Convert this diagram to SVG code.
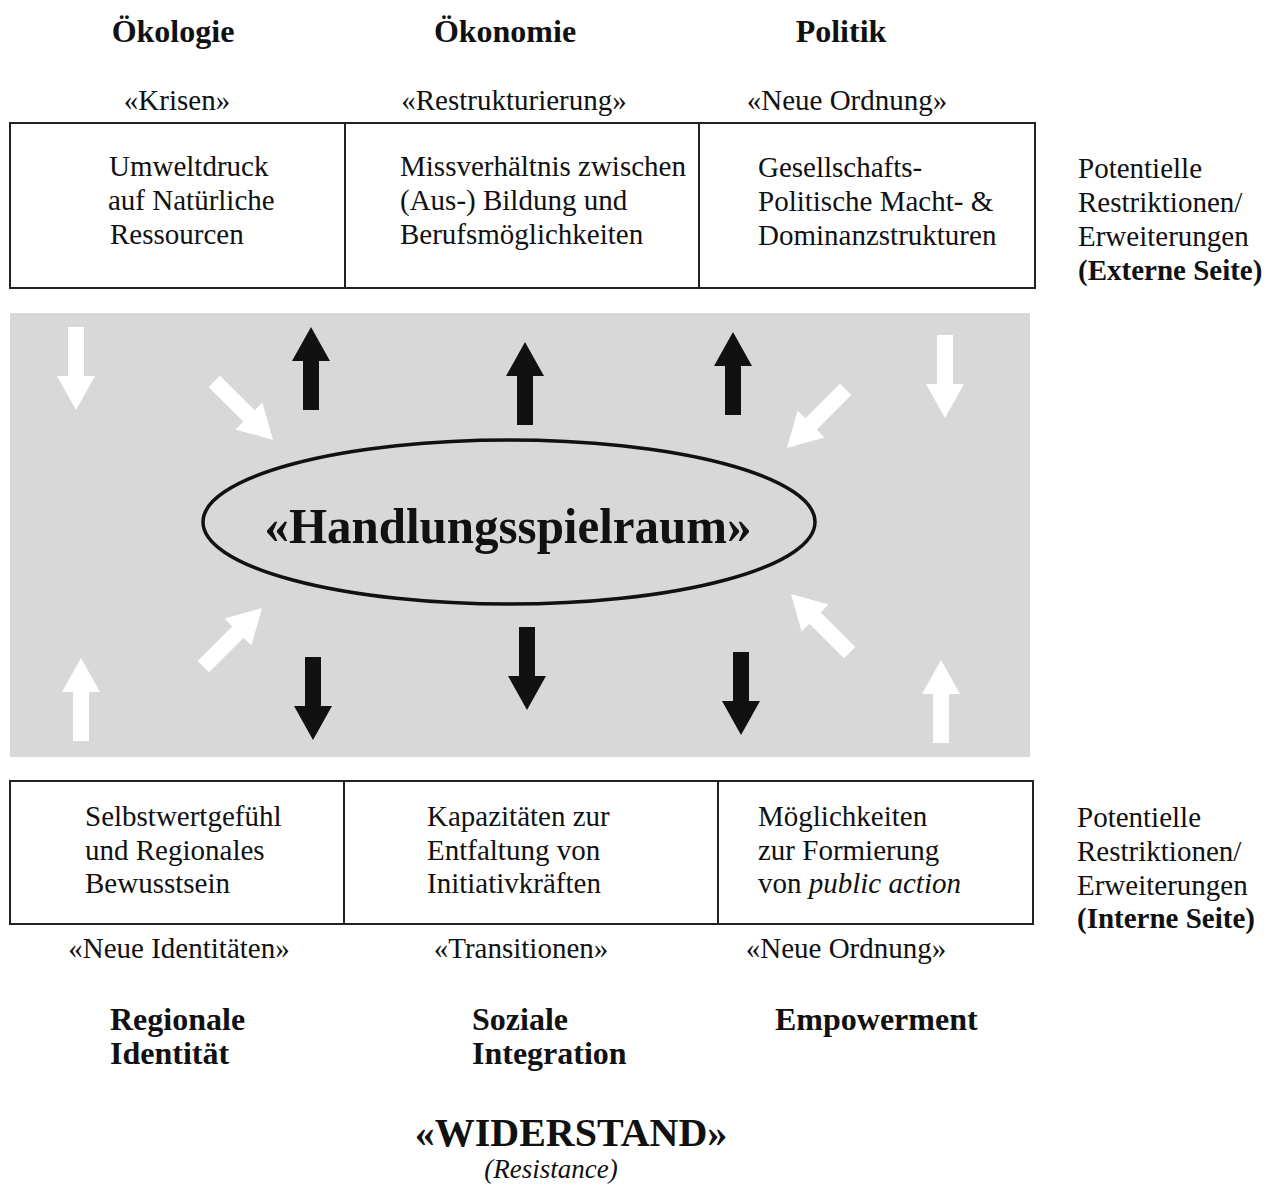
<svg xmlns="http://www.w3.org/2000/svg" xmlns:xlink="http://www.w3.org/1999/xlink" width="1266" height="1185" viewBox="0 0 1266 1185">
<style>
text{font-family:"Liberation Serif","Times New Roman",serif;fill:#111;}
.h{font-size:32px;font-weight:bold;}
.t{font-size:29px;}
.tb{font-size:29px;font-weight:bold;}
.c{text-anchor:middle;}
.box{fill:#fff;stroke:#222;stroke-width:2;}
.ab{fill:#111;}
.aw{fill:#fff;}
</style>
<defs>
<path id="arr" d="M0,0 L19,-34 L8,-34 L8,-83 L-8,-83 L-8,-34 L-19,-34 Z"/>
</defs>
<rect width="1266" height="1185" fill="#fff"/>

<g id="headers-top">
<text class="h c" x="173" y="42">Ökologie</text>
<text class="h c" x="505" y="42">Ökonomie</text>
<text class="h c" x="841" y="42">Politik</text>
<text class="t c" x="177" y="110">«Krisen»</text>
<text class="t c" x="514" y="110">«Restrukturierung»</text>
<text class="t c" x="847" y="110">«Neue Ordnung»</text>
</g>

<g id="box-oekologie">
<rect class="box" x="10" y="123" width="335" height="165"/>
<text class="t" x="109" y="176">Umweltdruck</text>
<text class="t" x="108" y="210">auf Natürliche</text>
<text class="t" x="110" y="244">Ressourcen</text>
</g>
<g id="box-oekonomie">
<rect class="box" x="345" y="123" width="354" height="165"/>
<text class="t" x="400" y="176">Missverhältnis zwischen</text>
<text class="t" x="400" y="210">(Aus-) Bildung und</text>
<text class="t" x="400" y="244">Berufsmöglichkeiten</text>
</g>
<g id="box-politik">
<rect class="box" x="699" y="123" width="336" height="165"/>
<text class="t" x="758" y="177">Gesellschafts-</text>
<text class="t" x="758" y="211">Politische Macht- &amp;</text>
<text class="t" x="758" y="245">Dominanzstrukturen</text>
</g>
<g id="label-extern">
<text class="t" x="1078" y="178">Potentielle</text>
<text class="t" x="1078" y="212">Restriktionen/</text>
<text class="t" x="1078" y="246">Erweiterungen</text>
<text class="tb" x="1078" y="280">(Externe Seite)</text>
</g>

<g id="field">
<rect x="10" y="313" width="1020" height="444" fill="#d8d8d8"/>
</g>

<g id="handlungsspielraum">
<ellipse cx="509" cy="522" rx="306" ry="82" fill="none" stroke="#111" stroke-width="3.5"/>
<text class="c" x="508" y="543" font-size="50" font-weight="bold" textLength="487" lengthAdjust="spacingAndGlyphs">«Handlungsspielraum»</text>
</g>

<g id="connectors">
<use href="#arr" class="ab" transform="translate(311,327) rotate(180)"/>
<use href="#arr" class="ab" transform="translate(525,342) rotate(180)"/>
<use href="#arr" class="ab" transform="translate(733,332) rotate(180)"/>
<use href="#arr" class="ab" transform="translate(313,740)"/>
<use href="#arr" class="ab" transform="translate(527,710)"/>
<use href="#arr" class="ab" transform="translate(741,735)"/>
<use href="#arr" class="aw" transform="translate(76,410)"/>
<use href="#arr" class="aw" transform="translate(81,658) rotate(180)"/>
<use href="#arr" class="aw" transform="translate(945,418)"/>
<use href="#arr" class="aw" transform="translate(941,660) rotate(180)"/>
<use href="#arr" class="aw" transform="translate(273,440) rotate(-45)"/>
<use href="#arr" class="aw" transform="translate(262,608) rotate(-135)"/>
<use href="#arr" class="aw" transform="translate(787,448) rotate(45)"/>
<use href="#arr" class="aw" transform="translate(791,594) rotate(135)"/>
</g>

<g id="box-identitaet">
<rect class="box" x="10" y="781" width="334" height="143"/>
<text class="t" x="85" y="826">Selbstwertgefühl</text>
<text class="t" x="85" y="860">und Regionales</text>
<text class="t" x="85" y="893">Bewusstsein</text>
</g>
<g id="box-integration">
<rect class="box" x="344" y="781" width="374" height="143"/>
<text class="t" x="427" y="826">Kapazitäten zur</text>
<text class="t" x="427" y="860">Entfaltung von</text>
<text class="t" x="427" y="893">Initiativkräften</text>
</g>
<g id="box-empowerment">
<rect class="box" x="718" y="781" width="315" height="143"/>
<text class="t" x="758" y="826">Möglichkeiten</text>
<text class="t" x="758" y="860">zur Formierung</text>
<text class="t" x="758" y="893">von <tspan font-style="italic">public action</tspan></text>
</g>
<g id="label-intern">
<text class="t" x="1077" y="827">Potentielle</text>
<text class="t" x="1077" y="861">Restriktionen/</text>
<text class="t" x="1077" y="895">Erweiterungen</text>
<text class="tb" x="1077" y="928">(Interne Seite)</text>
</g>

<g id="headers-bottom">
<text class="t c" x="179" y="958">«Neue Identitäten»</text>
<text class="t c" x="521" y="958">«Transitionen»</text>
<text class="t c" x="846" y="958">«Neue Ordnung»</text>
<text class="h" x="110" y="1030">Regionale</text>
<text class="h" x="110" y="1064">Identität</text>
<text class="h" x="472" y="1030">Soziale</text>
<text class="h" x="472" y="1064">Integration</text>
<text class="h" x="775" y="1030">Empowerment</text>
</g>

<g id="widerstand">
<text class="c" x="571" y="1146" font-size="40" font-weight="bold">«WIDERSTAND»</text>
<text class="c" x="551" y="1178" font-size="27" font-style="italic">(Resistance)</text>
</g>
</svg>
